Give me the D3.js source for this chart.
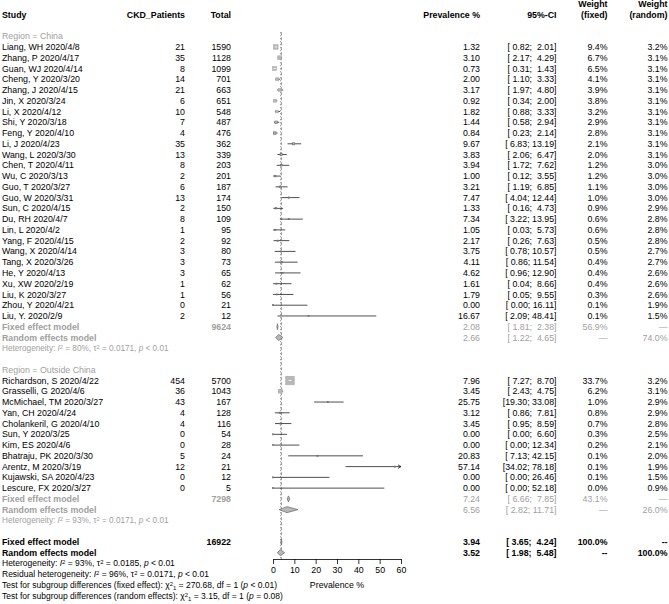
<!DOCTYPE html>
<html><head><meta charset="utf-8">
<script src="https://cdn.jsdelivr.net/npm/d3@7/dist/d3.min.js"></script>
<style>
body{margin:0;background:#fff}
text{font-family:"Liberation Sans",Arial,Helvetica,sans-serif;white-space:pre}
</style>
</head><body>
<svg id="c" width="669" height="604"></svg>
<script>
// ---------- DATA ----------
const chinaStudy = ["Liang, WH 2020/4/8","Zhang, P 2020/4/17","Guan, WJ 2020/4/14","Cheng, Y 2020/3/20","Zhang, J 2020/4/15","Jin, X 2020/3/24","Li, X 2020/4/12","Shi, Y 2020/3/18","Feng, Y 2020/4/10","Li, J 2020/4/23","Wang, L 2020/3/30","Chen, T 2020/4/11","Wu, C 2020/3/13","Guo, T 2020/3/27","Guo, W 2020/3/31","Sun, C 2020/4/15","Du, RH 2020/4/7","Lin, L 2020/4/2","Yang, F 2020/4/15","Wang, X 2020/4/14","Tang, X 2020/3/26","He, Y 2020/4/13","Xu, XW 2020/2/19","Liu, K 2020/3/27","Zhou, Y 2020/4/21","Liu, Y. 2020/2/9"];
const chinaCases = [21,35,8,14,21,6,10,7,4,35,13,8,2,6,13,2,8,1,2,3,3,3,1,1,0,2];
const chinaTotal = [1590,1128,1099,701,663,651,548,487,476,362,339,203,201,187,174,150,109,95,92,80,73,65,62,56,21,12];
const chinaPrev  = [1.32,3.10,0.73,2.00,3.17,0.92,1.82,1.44,0.84,9.67,3.83,3.94,1.00,3.21,7.47,1.33,7.34,1.05,2.17,3.75,4.11,4.62,1.61,1.79,0.00,16.67];
const chinaLo    = [0.82,2.17,0.31,1.10,1.97,0.34,0.88,0.58,0.23,6.83,2.06,1.72,0.12,1.19,4.04,0.16,3.22,0.03,0.26,0.78,0.86,0.96,0.04,0.05,0.00,2.09];
const chinaHi    = [2.01,4.29,1.43,3.33,4.80,2.00,3.33,2.94,2.14,13.19,6.47,7.62,3.55,6.85,12.44,4.73,13.95,5.73,7.63,10.57,11.54,12.90,8.66,9.55,16.11,48.41];
const chinaWF    = [9.4,6.7,6.5,4.1,3.9,3.8,3.2,2.9,2.8,2.1,2.0,1.2,1.2,1.1,1.0,0.9,0.6,0.6,0.5,0.5,0.4,0.4,0.4,0.3,0.1,0.1];
const chinaWR    = [3.2,3.1,3.1,3.1,3.1,3.1,3.1,3.1,3.1,3.1,3.1,3.0,3.0,3.0,3.0,2.9,2.8,2.8,2.8,2.7,2.7,2.6,2.6,2.6,1.9,1.5];

const outStudy = ["Richardson, S 2020/4/22","Grasselli, G 2020/4/6","McMichael, TM 2020/3/27","Yan, CH 2020/4/24","Cholankeril, G 2020/4/10","Sun, Y 2020/3/25","Kim, ES 2020/4/6","Bhatraju, PK 2020/3/30","Arentz, M 2020/3/19","Kujawski, SA 2020/4/23","Lescure, FX 2020/3/27"];
const outCases = [454,36,43,4,4,0,0,5,12,0,0];
const outTotal = [5700,1043,167,128,116,54,28,24,21,12,5];
const outPrev  = [7.96,3.45,25.75,3.12,3.45,0.00,0.00,20.83,57.14,0.00,0.00];
const outLo    = [7.27,2.43,19.30,0.86,0.95,0.00,0.00,7.13,34.02,0.00,0.00];
const outHi    = [8.70,4.75,33.08,7.81,8.59,6.60,12.34,42.15,78.18,26.46,52.18];
const outWF    = [33.7,6.2,1.0,0.8,0.7,0.3,0.2,0.1,0.1,0.1,0.0];
const outWR    = [3.2,3.1,2.9,2.9,2.8,2.5,2.1,2.0,1.9,1.5,0.9];

// summaries: [fixed, random]
const chinaSumTotal = 9624, chinaSumEst = [2.08,2.66], chinaSumLo = [1.81,1.22], chinaSumHi = [2.38,4.65], chinaSumW = ["56.9%","74.0%"];
const outSumTotal = 7298,  outSumEst = [7.24,6.56],  outSumLo = [6.66,2.82],  outSumHi = [7.85,11.71], outSumW = ["43.1%","26.0%"];
const allSumTotal = 16922, allSumEst = [3.94,3.52],  allSumLo = [3.65,1.98],  allSumHi = [4.24,5.48],  allSumW = ["100.0%","100.0%"];
const chinaHet = ["80%","0.0171","< 0.01"];
const outHet   = ["93%","0.0171","< 0.01"];
const allHet   = ["93%","0.0185","< 0.01"];
const residHet = ["96%","0.0171","< 0.01"];
const testFixed  = ["270.68","1","< 0.01"];
const testRandom = ["3.15","1","= 0.08"];
const xTicks = [0,10,20,30,40,50,60];

// ---------- LAYOUT ----------
const svg = d3.select('#c');
const FS = 8.8, FSs = 8.2, FSb = 8.5;
const GRAY = '#a0a0a0';
const x = d3.scaleLinear().domain([0,60]).range([273,401]);
const rowH = 10.76, y0 = 36.2;
const yc = r => y0 + r*rowH;
const col = {study:2, cases:185, total:231, prev:480, ci:556.5, wf:607.5, wr:667.5};
const f2 = d3.format('.2f'), f1 = d3.format('.1f');
const pad = s => s.length < 5 ? ' '.repeat(5 - s.length) + s : s;
const ci = (lo,hi) => '[' + pad(f2(lo)) + '; ' + pad(f2(hi)) + ']';

function txt(xp, y, s, o={}) {
  return svg.append('text').attr('x', xp).attr('y', y).attr('dy','0.35em')
    .attr('text-anchor', o.anchor || 'start')
    .attr('font-size', o.size || FS)
    .attr('font-weight', o.bold ? 'bold' : 'normal')
    .attr('fill', o.fill || '#000').text(s);
}

// rich text: segments [text, kind]
function rich(xp, y, segs, o={}) {
  const t = svg.append('text').attr('x', xp).attr('y', y).attr('dy','0.35em')
    .attr('font-size', o.size || FS).attr('fill', o.fill || '#000');
  const fs = o.size || FS;
  segs.forEach(([s, k]) => {
    const sp = t.append('tspan').text(s);
    if (k === 'i') sp.attr('font-style','italic');
    if (k === 'sup') sp.attr('font-size', fs*0.7).attr('baseline-shift', '40%');
    if (k === 'sub') sp.attr('font-size', fs*0.7).attr('baseline-shift', '-25%');
  });
  return t;
}
function hetText(y, h, o) {
  return rich(2, y, [["Heterogeneity: ",""],["I","i"],["2","sup"],[" = "+h[0]+", ",""],["\u03C4",""],["2","sup"],[" = "+h[1]+", ",""],["p","i"],[" "+h[2],""]], o);
}

// headers
txt(col.study, yc(-2), 'Study', {bold:true});
txt(col.cases, yc(-2), 'CKD_Patients', {bold:true, anchor:'end'});
txt(col.total, yc(-2), 'Total', {bold:true, anchor:'end'});
txt(col.prev, yc(-2), 'Prevalence %', {bold:true, anchor:'end'});
txt(col.ci, yc(-2), '95%-CI', {bold:true, anchor:'end'});
txt(col.wf, yc(-3), 'Weight', {bold:true, anchor:'end'});
txt(col.wf, yc(-2), '(fixed)', {bold:true, anchor:'end'});
txt(col.wr, yc(-3), 'Weight', {bold:true, anchor:'end'});
txt(col.wr, yc(-2), '(random)', {bold:true, anchor:'end'});

const axisY = 559;
// reference lines
svg.append('line').attr('x1', x(allSumEst[0])).attr('x2', x(allSumEst[0]))
  .attr('y1', yc(0)-4).attr('y2', axisY).attr('stroke','#777').attr('stroke-width',0.8).attr('stroke-dasharray','3,2');
svg.append('line').attr('x1', x(allSumEst[1])).attr('x2', x(allSumEst[1]))
  .attr('y1', yc(0)-4).attr('y2', axisY).attr('stroke','#777').attr('stroke-width',0.8).attr('stroke-dasharray','1,2');

const maxW = 33.7, maxSide = 8.5;
function studyMark(r, est, lo, hi, w) {
  const y = yc(r);
  const hiC = Math.min(hi, 60), loC = Math.max(lo, 0);
  svg.append('line').attr('x1', x(loC)).attr('x2', x(hiC)).attr('y1', y).attr('y2', y)
    .attr('stroke', '#222').attr('stroke-width', 0.8);
  if (hi > 60) {
    const xe = x(60);
    svg.append('path').attr('d', `M${xe-3},${y-1.8}L${xe},${y}L${xe-3},${y+1.8}`)
      .attr('fill','none').attr('stroke','#222').attr('stroke-width',0.8);
  }
  const side = Math.max(1.2, maxSide * Math.sqrt(w / maxW));
  svg.append('rect').attr('x', x(est) - side/2).attr('y', y - side/2)
    .attr('width', side).attr('height', side)
    .attr('fill', '#b8b8b8').attr('stroke', w > 3 ? '#a8a8a8' : '#666').attr('stroke-width', 0.6);
  if (x(hi) - x(lo) < side) {
    svg.append('line').attr('x1', x(lo)).attr('x2', x(hi)).attr('y1', y).attr('y2', y)
      .attr('stroke', '#fff').attr('stroke-width', 0.8);
  }
}
function diamond(r, est, lo, hi) {
  const y = yc(r), h = 3;
  svg.append('path').attr('d', `M${x(lo)},${y}L${x(est)},${y-h}L${x(hi)},${y}L${x(est)},${y+h}Z`)
    .attr('fill', '#b8b8b8').attr('stroke', '#666').attr('stroke-width', 0.7);
}

function group(r0, label, names, cases, totals, prev, lo, hi, wf, wr, sTot, sEst, sLo, sHi, sW, het) {
  txt(col.study, yc(r0), label, {fill: GRAY});
  names.forEach((n, i) => {
    const r = r0 + 1 + i;
    txt(col.study, yc(r), n);
    txt(col.cases, yc(r), String(cases[i]), {anchor:'end'});
    txt(col.total, yc(r), String(totals[i]), {anchor:'end'});
    txt(col.prev, yc(r), f2(prev[i]), {anchor:'end'});
    txt(col.ci, yc(r), ci(lo[i], hi[i]), {anchor:'end'});
    txt(col.wf, yc(r), f1(wf[i]) + '%', {anchor:'end'});
    txt(col.wr, yc(r), f1(wr[i]) + '%', {anchor:'end'});
    studyMark(r, prev[i], lo[i], hi[i], wf[i]);
  });
  const rf = r0 + names.length + 1, rr = rf + 1;
  txt(col.study, yc(rf), 'Fixed effect model', {fill: GRAY, bold:true});
  txt(col.total, yc(rf), String(sTot), {fill: GRAY, bold:true, anchor:'end'});
  txt(col.study, yc(rr), 'Random effects model', {fill: GRAY, bold:true});
  [rf, rr].forEach((r, k) => {
    txt(col.prev, yc(r), f2(sEst[k]), {fill: GRAY, anchor:'end'});
    txt(col.ci, yc(r), ci(sLo[k], sHi[k]), {fill: GRAY, anchor:'end'});
    txt(col.wf, yc(r), k === 0 ? sW[0] : '\u2014', {fill: GRAY, anchor:'end'});
    txt(col.wr, yc(r), k === 1 ? sW[1] : '\u2014', {fill: GRAY, anchor:'end'});
    diamond(r, sEst[k], sLo[k], sHi[k]);
  });
  hetText(yc(rr + 1), het, {fill: GRAY, size: FSs});
  return rr + 1;
}

let rEnd = group(0, 'Region = China', chinaStudy, chinaCases, chinaTotal, chinaPrev, chinaLo, chinaHi, chinaWF, chinaWR,
  chinaSumTotal, chinaSumEst, chinaSumLo, chinaSumHi, chinaSumW, chinaHet);
rEnd = group(rEnd + 2, 'Region = Outside China', outStudy, outCases, outTotal, outPrev, outLo, outHi, outWF, outWR,
  outSumTotal, outSumEst, outSumLo, outSumHi, outSumW, outHet);

// overall
const ro = rEnd + 2;
txt(col.study, yc(ro), 'Fixed effect model', {bold:true});
txt(col.total, yc(ro), String(allSumTotal), {bold:true, anchor:'end'});
txt(col.study, yc(ro+1), 'Random effects model', {bold:true});
[ro, ro+1].forEach((r, k) => {
  txt(col.prev, yc(r), f2(allSumEst[k]), {bold:true, anchor:'end'});
  txt(col.ci, yc(r), ci(allSumLo[k], allSumHi[k]), {bold:true, anchor:'end'});
  txt(col.wf, yc(r), k === 0 ? allSumW[0] : '--', {bold:true, anchor:'end'});
  txt(col.wr, yc(r), k === 1 ? allSumW[1] : '--', {bold:true, anchor:'end'});
  diamond(r, allSumEst[k], allSumLo[k], allSumHi[k]);
});
hetText(yc(ro+2), allHet, {size: FSb});
rich(2, yc(ro+3), [["Residual heterogeneity: ",""],["I","i"],["2","sup"],[" = "+residHet[0]+", ",""],["\u03C4",""],["2","sup"],[" = "+residHet[1]+", ",""],["p","i"],[" "+residHet[2],""]], {size: FSb});
rich(2, yc(ro+4), [["Test for subgroup differences (fixed effect): \u03C7",""],["2","sup"],["1","sub"],[" = "+testFixed[0]+", df = "+testFixed[1]+" (",""],["p","i"],[" "+testFixed[2]+")",""]], {size: FSb});
rich(2, yc(ro+5), [["Test for subgroup differences (random effects): \u03C7",""],["2","sup"],["1","sub"],[" = "+testRandom[0]+", df = "+testRandom[1]+" (",""],["p","i"],[" "+testRandom[2]+")",""]], {size: FSb});

// axis
const ax = svg.append('g').attr('transform', `translate(0,${axisY})`)
  .call(d3.axisBottom(x).tickValues(xTicks).tickSize(5).tickSizeOuter(0).tickPadding(3));
ax.selectAll('text').attr('font-size', FS).attr('font-family','"Liberation Sans",Arial,sans-serif').attr('fill','#000');
ax.selectAll('line,path').attr('stroke','#000').attr('stroke-width',0.8);
txt(x(30), yc(ro+4), 'Prevalence %', {anchor:'middle'});
</script>
</body></html>
